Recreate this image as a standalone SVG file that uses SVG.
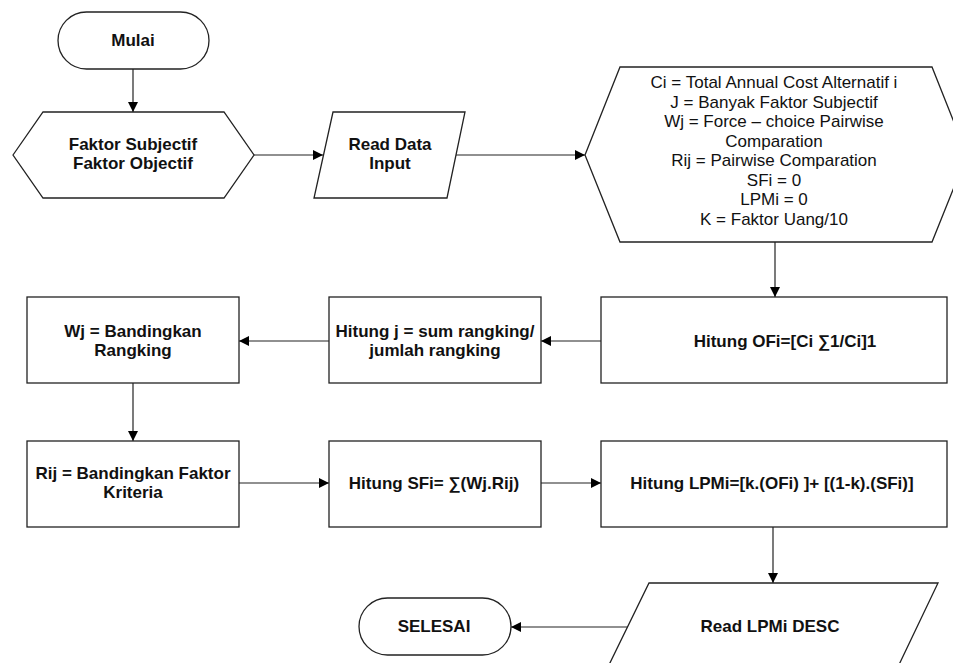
<svg xmlns="http://www.w3.org/2000/svg" width="953" height="663" viewBox="0 0 953 663">
<style>
.shape{fill:#fff;stroke:#222;stroke-width:1.3}
.lbl{font-family:"Liberation Sans",Arial,sans-serif;font-size:17px;font-weight:bold;fill:#111;text-anchor:middle}
.reg{font-family:"Liberation Sans",Arial,sans-serif;font-size:17px;fill:#111;text-anchor:middle}
.conn{fill:none;stroke:#222;stroke-width:1.2}
</style>
<defs>
<marker id="ah" markerUnits="userSpaceOnUse" markerWidth="11" markerHeight="11" refX="10" refY="5" orient="auto">
<path d="M0,0 L10,5 L0,10 z" fill="#000"/>
</marker>
</defs>
<rect width="953" height="663" fill="#fff"/>
<g id="connectors">
<line class="conn" x1="133" y1="69" x2="133" y2="112" marker-end="url(#ah)"/>
<line class="conn" x1="254" y1="155" x2="323" y2="155" marker-end="url(#ah)"/>
<line class="conn" x1="456" y1="155" x2="585" y2="155" marker-end="url(#ah)"/>
<line class="conn" x1="775" y1="242" x2="775" y2="297" marker-end="url(#ah)"/>
<line class="conn" x1="601" y1="341" x2="541" y2="341" marker-end="url(#ah)"/>
<line class="conn" x1="329" y1="341" x2="239" y2="341" marker-end="url(#ah)"/>
<line class="conn" x1="133" y1="383" x2="133" y2="441" marker-end="url(#ah)"/>
<line class="conn" x1="239" y1="483" x2="329" y2="483" marker-end="url(#ah)"/>
<line class="conn" x1="541" y1="483" x2="601" y2="483" marker-end="url(#ah)"/>
<line class="conn" x1="773" y1="527" x2="773" y2="583" marker-end="url(#ah)"/>
<line class="conn" x1="628" y1="627" x2="511" y2="627" marker-end="url(#ah)"/>
</g>
<g id="mulai">
<rect class="shape" x="58" y="12" width="151" height="57" rx="28.5"/>
<text class="lbl" x="133" y="46">Mulai</text>
</g>
<g id="faktor">
<polygon class="shape" points="13,155 43,112 224,112 254,155 224,198 43,198"/>
<text class="lbl" x="133" y="150">Faktor Subjectif</text>
<text class="lbl" x="133" y="169">Faktor Objectif</text>
</g>
<g id="read-data">
<polygon class="shape" points="333,112 465,112 447,198 314,198"/>
<text class="lbl" x="390" y="150">Read Data</text>
<text class="lbl" x="390" y="169">Input</text>
</g>
<g id="init">
<polygon class="shape" points="585,155 620,67 932,67 967,155 932,242 620,242"/>
<text class="reg" x="774" y="88">Ci = Total Annual Cost Alternatif i</text>
<text class="reg" x="774" y="107.5">J = Banyak Faktor Subjectif</text>
<text class="reg" x="774" y="127">Wj = Force – choice Pairwise</text>
<text class="reg" x="774" y="146.5">Comparation</text>
<text class="reg" x="774" y="166">Rij = Pairwise Comparation</text>
<text class="reg" x="774" y="185.5">SFi = 0</text>
<text class="reg" x="774" y="205">LPMi = 0</text>
<text class="reg" x="774" y="224.5">K = Faktor Uang/10</text>
</g>
<g id="ofi">
<rect class="shape" x="601" y="297" width="346" height="86"/>
<text class="lbl" x="785" y="347">Hitung OFi=[Ci ∑1/Ci]1</text>
</g>
<g id="hitung-j">
<rect class="shape" x="329" y="297" width="212" height="86"/>
<text class="lbl" x="435" y="337">Hitung j = sum rangking/</text>
<text class="lbl" x="435" y="356">jumlah rangking</text>
</g>
<g id="wj">
<rect class="shape" x="27" y="297" width="212" height="86"/>
<text class="lbl" x="133" y="337">Wj = Bandingkan</text>
<text class="lbl" x="133" y="356">Rangking</text>
</g>
<g id="rij">
<rect class="shape" x="27" y="441" width="212" height="86"/>
<text class="lbl" x="133" y="479">Rij = Bandingkan Faktor</text>
<text class="lbl" x="133" y="498">Kriteria</text>
</g>
<g id="sfi">
<rect class="shape" x="329" y="441" width="212" height="86"/>
<text class="lbl" x="434" y="489">Hitung SFi= ∑(Wj.Rij)</text>
</g>
<g id="lpmi">
<rect class="shape" x="601" y="441" width="346" height="86"/>
<text class="lbl" x="772" y="489">Hitung LPMi=[k.(OFi) ]+ [(1-k).(SFi)]</text>
</g>
<g id="read-lpmi">
<polygon class="shape" points="649,583 938,583 896,671 606,671"/>
<text class="lbl" x="770" y="632">Read LPMi DESC</text>
</g>
<g id="selesai">
<rect class="shape" x="359" y="598" width="152" height="57" rx="28.5"/>
<text class="lbl" x="434" y="632">SELESAI</text>
</g>
</svg>
